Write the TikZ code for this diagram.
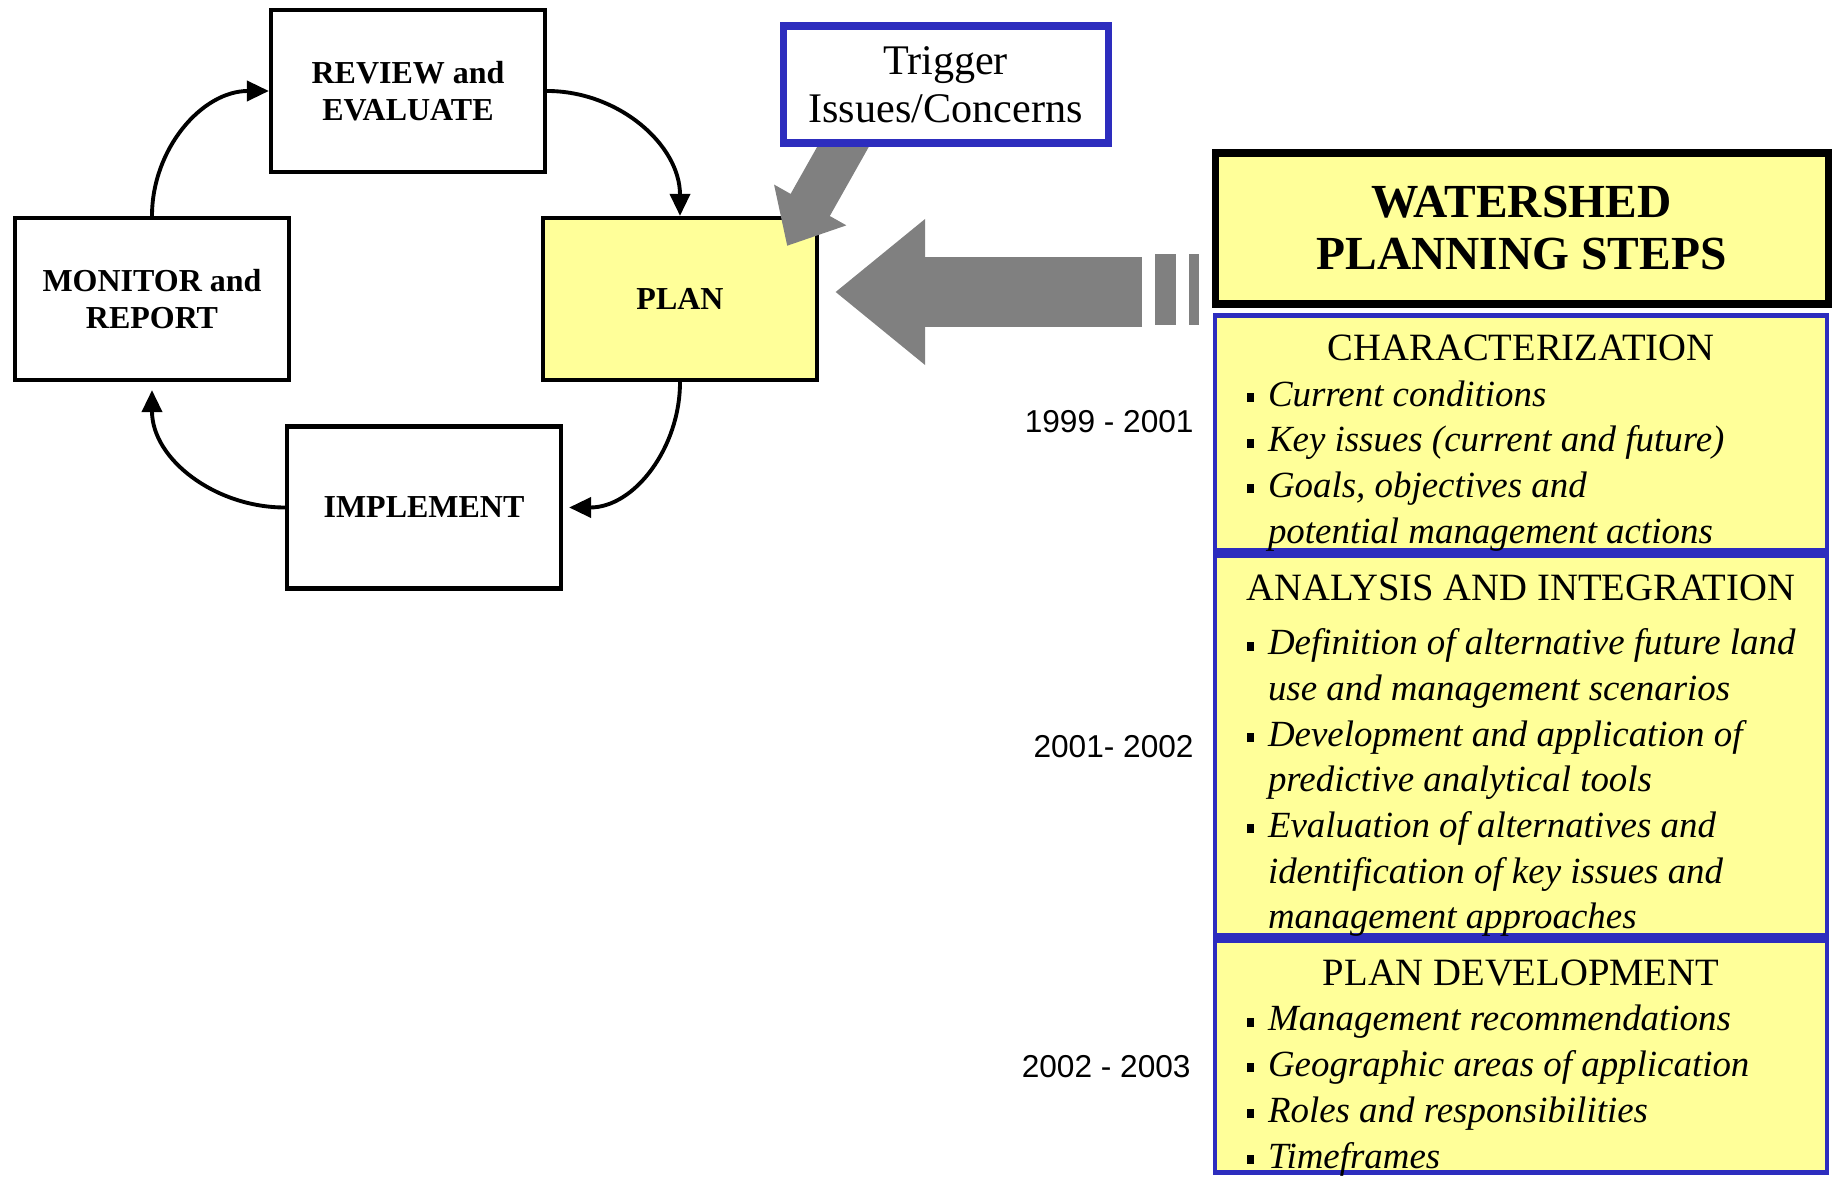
\documentclass[tikz,border=0pt]{standalone}
\usepackage{fontspec}
\setmainfont{Liberation Serif}
\newfontfamily\datesans{Liberation Sans}
\usetikzlibrary{arrows.meta,positioning,calc}

\definecolor{planyellow}{RGB}{255,255,153}
\definecolor{stepblue}{RGB}{45,45,190}
\definecolor{arrowgray}{RGB}{128,128,128}

\pgfdeclarelayer{front}
\pgfsetlayers{main,front}

\tikzset{
  >={Triangle[length=0.22cm,width=0.2cm]},   % filled arrow tips
  cyclebox/.style={draw, line width=1.2pt, minimum width=2.74cm, minimum height=1.62cm,
    align=center, font=\fontsize{9.1}{10.5}\selectfont\bfseries},
  cyclearrow/.style={->, line width=1.1pt},
  triggerbox/.style={draw=stepblue, line width=2pt, fill=white, minimum width=3.25cm,
    minimum height=1.17cm, align=center, font=\fontsize{12}{13.7}\selectfont},
  stepbox/.style={draw=stepblue, line width=1.4pt, fill=planyellow, inner sep=0pt},
  datelabel/.style={font=\datesans\fontsize{9}{11}\selectfont, anchor=east},
  bigarrow/.style={draw=arrowgray, line width=0.70cm, -{Triangle[length=0.90cm,width=1.40cm]}},
}

% contents of the step boxes
\newcommand{\steptitle}[1]{{\centering\fontsize{11}{13}\selectfont\rule{0pt}{12.8pt}#1\par}}
\newcommand{\stepitems}{\itshape\fontsize{10.5}{13}\selectfont\leftskip=0.53cm\relax}
\newcommand{\stepitem}[1]{\noindent\llap{\rule[1.2pt]{0.07cm}{0.09cm}\hspace{0.14cm}}#1\par}

\begin{document}
\begin{tikzpicture}
	\useasboundingbox (0,0) rectangle (18.34,-11.79);

	% cycle
	\node[cyclebox] (review) at (4.08,-0.91) {REVIEW and\\EVALUATE};
	\node[cyclebox] (monitor) at (1.52,-2.99) {MONITOR and\\REPORT};
	\node[cyclebox, fill=planyellow] (plan) at (6.80,-2.99) {PLAN};
	\node[cyclebox] (implement) at (4.24,-5.075) {IMPLEMENT};

	\draw[cyclearrow] (review.east) to[out=0,in=90] (plan.north);
	\draw[cyclearrow] (plan.south) to[out=-90,in=0] ([xshift=0.06cm]implement.east);
	\draw[cyclearrow] (implement.west) to[out=180,in=-90] ([yshift=-0.08cm]monitor.south);
	\draw[cyclearrow] (monitor.north) to[out=90,in=180] (review.west);

	% trigger
	\begin{pgfonlayer}{front}
		\node[triggerbox] (trigger) at (9.455,-0.845) {Trigger\\Issues/Concerns};
	\end{pgfonlayer}
	\draw[draw=arrowgray, line width=0.45cm, -{Triangle[length=0.47cm,width=0.80cm]}]
		($(trigger.south)+(-0.95,0.13)$) -- ($(plan.north east)+(-0.32,-0.30)$);

	% steps -> plan
	\coordinate (tail) at (11.42,-2.92);
	\draw[bigarrow] (tail) -- ($(plan.east |- tail)+(0.16,0)$);
	\fill[arrowgray] (11.55,-2.54) rectangle (11.76,-3.25);
	\fill[arrowgray] (11.89,-2.54) rectangle (11.99,-3.25);

	% planning steps
	\node[draw, line width=2pt, fill=planyellow, minimum width=6.13cm, minimum height=1.51cm,
		align=center, font=\fontsize{13.5}{14.8}\selectfont\bfseries] (watershed) at (15.215,-2.285)
		{WATERSHED\\PLANNING STEPS};

	\node[stepbox, anchor=north] (charbox) at (15.21,-3.13) {\parbox[c][2.35cm][t]{6.12cm}{%
		\steptitle{CHARACTERIZATION}
		\stepitems
		\stepitem{Current conditions}
		\stepitem{Key issues (current and future)}
		\stepitem{Goals, objectives and\newline potential management actions}}};
	\node[stepbox, below=0pt of charbox] (analysis) {\parbox[c][3.80cm][t]{6.12cm}{%
		\steptitle{ANALYSIS AND INTEGRATION}
		\vspace{2.5pt}
		\stepitems
		\stepitem{Definition of alternative future land\newline use and management scenarios}
		\stepitem{Development and application of\newline predictive analytical tools}
		\stepitem{Evaluation of alternatives and\newline identification of key issues and\newline management approaches}}};
	\node[stepbox, below=0pt of analysis] (plandev) {\parbox[c][2.32cm][t]{6.12cm}{%
		\steptitle{PLAN DEVELOPMENT}
		\stepitems
		\stepitem{Management recommendations}
		\stepitem{Geographic areas of application}
		\stepitem{Roles and responsibilities}
		\stepitem{Timeframes}}};

	% years
	\node[datelabel] (date1) at (12.06,-4.22) {1999 - 2001};
	\node[datelabel] (date2) at (12.06,-7.47) {2001- 2002};
	\node[datelabel] (date3) at (12.03,-10.67) {2002 - 2003};
\end{tikzpicture}
\end{document}
